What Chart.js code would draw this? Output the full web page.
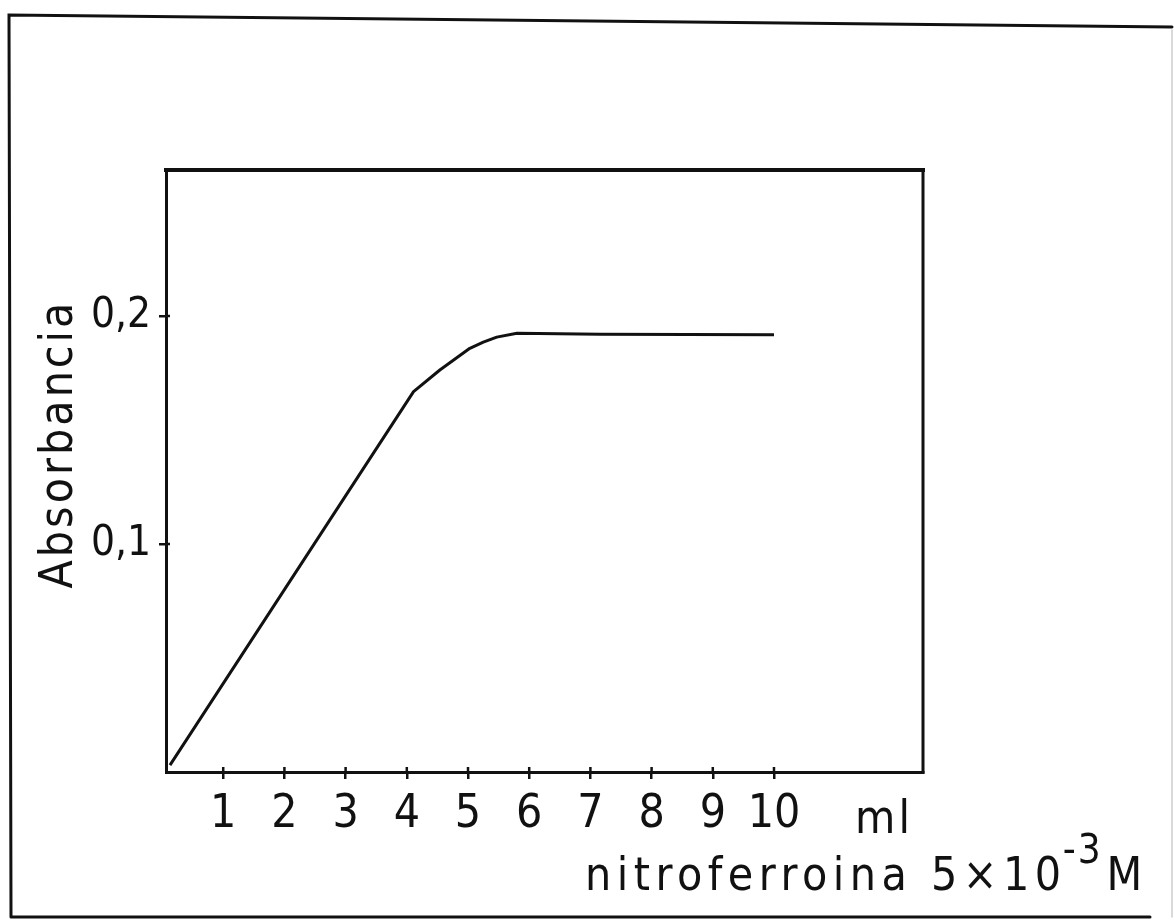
<!DOCTYPE html>
<html>
<head>
<meta charset="utf-8">
<script src="https://cdn.jsdelivr.net/npm/chart.js@4/dist/chart.umd.min.js"></script>
<style>
  html, body { margin: 0; padding: 0; background: #fff; }
  #wrap { position: relative; width: 1174px; height: 923px; }
</style>
</head>
<body>
<div id="wrap"><canvas id="c" width="1174" height="923"></canvas></div>
<script>
// Absorbance vs. volume of nitroferroin added
const volumeMl   = [0.13, 4.11, 4.54, 5.03, 5.25, 5.47, 5.8, 7.16, 10];
const absorbance = [0.003, 0.1668, 0.1763, 0.1858, 0.1885, 0.1907, 0.1924, 0.1920, 0.1917];

const xTickValues = [1, 2, 3, 4, 5, 6, 7, 8, 9, 10];
const yTickValues = [0.1, 0.2];
const yTickLabels = ['0,1', '0,2'];

const yTitle = 'Absorbancia';
const xUnit = 'ml';
const xTitleMain = 'nitroferroina 5×10';
const xTitleExp = '-3';
const xTitleTail = 'M';

const INK = '#111';
const FONT = '"Liberation Sans Narrow", "DejaVu Sans Condensed", "Liberation Sans", sans-serif';

// page frame and text that lives outside the axes
const decorations = {
  id: 'decorations',
  beforeDraw(chart) {
    const ctx = chart.ctx;
    ctx.save();
    ctx.strokeStyle = INK;
    ctx.lineWidth = 3;
    ctx.lineCap = 'round';
    ctx.beginPath();
    ctx.moveTo(11, 917);
    ctx.lineTo(9, 15);
    ctx.lineTo(1172, 27);
    ctx.moveTo(11, 917);
    ctx.lineTo(1150, 917);
    ctx.stroke();
    ctx.strokeStyle = '#ccc';
    ctx.lineWidth = 1.5;
    ctx.beginPath();
    ctx.moveTo(1172, 30);
    ctx.lineTo(1172, 917);
    ctx.stroke();
    ctx.restore();
  },
  afterDraw(chart) {
    const ctx = chart.ctx;
    const a = chart.chartArea;
    ctx.save();
    // top and right edges of the plot box
    ctx.strokeStyle = INK;
    ctx.lineCap = 'square';
    ctx.lineWidth = 4;
    ctx.beginPath();
    ctx.moveTo(a.left, a.top);
    ctx.lineTo(a.right, a.top);
    ctx.stroke();
    ctx.lineWidth = 3;
    ctx.beginPath();
    ctx.moveTo(a.right, a.top);
    ctx.lineTo(a.right, a.bottom);
    ctx.stroke();

    // short inward stubs so the tick marks cross the axes
    const xs = chart.scales.x;
    ctx.lineWidth = 2.5;
    ctx.lineCap = 'butt';
    ctx.beginPath();
    xTickValues.forEach(v => {
      const px = xs.getPixelForValue(v);
      ctx.moveTo(px, a.bottom);
      ctx.lineTo(px, a.bottom - 5);
    });
    const ys = chart.scales.y;
    yTickValues.forEach(v => {
      const py = ys.getPixelForValue(v);
      ctx.moveTo(a.left, py);
      ctx.lineTo(a.left + 4, py);
    });
    ctx.stroke();

    ctx.fillStyle = INK;
    ctx.letterSpacing = '3px';
    // y axis title
    ctx.save();
    ctx.translate(72, 444);
    ctx.rotate(-Math.PI / 2);
    ctx.font = '46px ' + FONT;
    ctx.textAlign = 'center';
    ctx.textBaseline = 'alphabetic';
    ctx.fillText(yTitle, 0, 0);
    ctx.restore();

    // unit next to the x ticks
    ctx.font = '46px ' + FONT;
    ctx.textAlign = 'center';
    ctx.textBaseline = 'alphabetic';
    ctx.fillText(xUnit, 884, 833);

    // x axis title with exponent
    ctx.letterSpacing = '5.5px';
    ctx.textAlign = 'left';
    let x = 585;
    const base = 890;
    ctx.font = '46px ' + FONT;
    ctx.fillText(xTitleMain, x, base);
    x += ctx.measureText(xTitleMain).width;
    ctx.letterSpacing = '2px';
    ctx.font = '40px ' + FONT;
    ctx.fillText(xTitleExp, x - 4, base - 27);
    x += ctx.measureText(xTitleExp).width;
    ctx.font = '46px ' + FONT;
    ctx.fillText(xTitleTail, x, base);
    ctx.restore();
  }
};

new Chart(document.getElementById('c'), {
  type: 'line',
  data: {
    datasets: [{
      data: volumeMl.map((v, i) => ({ x: v, y: absorbance[i] })),
      borderColor: INK,
      borderWidth: 3,
      borderJoinStyle: 'round',
      pointRadius: 0,
      tension: 0,
      fill: false
    }]
  },
  options: {
    responsive: false,
    animation: false,
    events: [],
    layout: { padding: { top: 170, right: 251, left: 0, bottom: 0 } },
    plugins: { legend: { display: false }, tooltip: { enabled: false } },
    scales: {
      x: {
        type: 'linear',
        min: 0.065,
        max: 12.435,
        afterBuildTicks(scale) { scale.ticks = xTickValues.map(v => ({ value: v })); },
        afterFit(scale) { scale.height = 151; },
        border: { display: true, color: INK, width: 3 },
        grid: { display: true, drawOnChartArea: false, drawTicks: true, tickLength: 7, color: INK, lineWidth: 2.5 },
        ticks: {
          autoSkip: false, maxRotation: 0, color: INK, padding: 8,
          font: { family: FONT, size: 46 },
          callback: v => String(v)
        }
      },
      y: {
        type: 'linear',
        min: 0,
        max: 0.264,
        afterBuildTicks(scale) { scale.ticks = yTickValues.map(v => ({ value: v })); },
        afterFit(scale) { scale.width = 166; },
        border: { display: true, color: INK, width: 3 },
        grid: { display: true, drawOnChartArea: false, drawTicks: true, tickLength: 7, color: INK, lineWidth: 2.5 },
        ticks: {
          autoSkip: false, color: INK, padding: 8,
          font: { family: FONT, size: 42 },
          callback: v => yTickLabels[yTickValues.findIndex(t => Math.abs(t - v) < 1e-9)]
        }
      }
    }
  },
  plugins: [decorations]
});
</script>
</body>
</html>
